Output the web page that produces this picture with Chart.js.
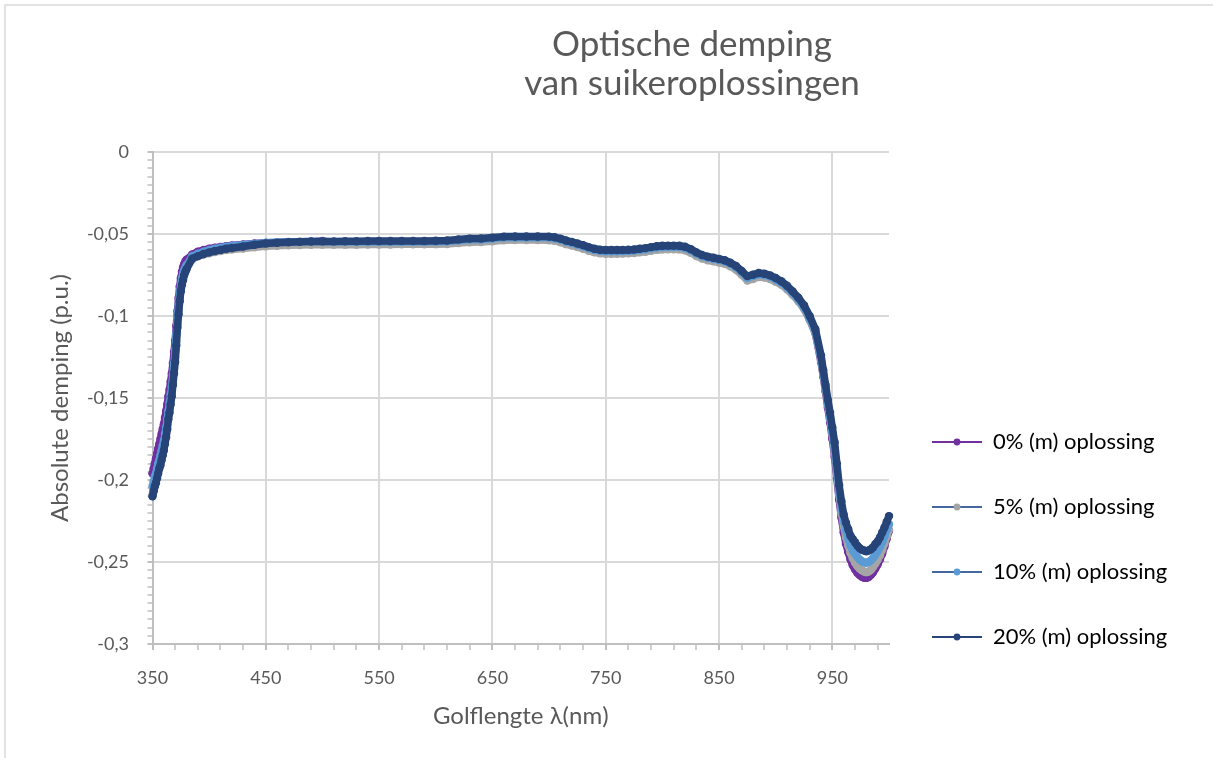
<!DOCTYPE html>
<html>
<head>
<meta charset="utf-8">
<script src="https://cdn.jsdelivr.net/npm/chart.js"></script>
<style>
html,body{margin:0;padding:0;background:#ffffff;}
#wrap{position:relative;width:1213px;height:758px;}
</style>
</head>
<body>
<div id="wrap"><canvas id="c" width="1213" height="758"></canvas></div>
<script>
// ---------- DATA ----------
const wavelengths = [
350,351,352,353,354,355,356,357,358,359,360,361,362,363,364,365,366,367,368,369,370,371,372,373,374,375,376,377,378,379,380,
385,390,395,400,405,410,415,420,
430,440,450,460,470,480,490,500,510,520,530,540,550,560,570,580,590,600,610,620,630,640,650,660,670,680,690,700,
705,710,715,720,725,730,735,740,745,750,755,760,765,770,775,780,785,790,795,800,805,810,815,820,825,830,835,840,845,850,855,860,865,870,875,880,885,890,895,900,905,910,915,920,925,930,935,
940,942,944,946,948,950,952,954,956,958,960,962,964,966,968,970,972,974,976,978,980,982,984,986,988,990,992,994,996,998,1000
];

const abs0 = [
-0.196,-0.193,-0.190,-0.187,-0.184,-0.181,-0.178,-0.175,-0.172,-0.169,-0.166,-0.162,-0.158,-0.154,-0.149,-0.145,-0.140,-0.135,-0.129,-0.122,-0.115,-0.106,-0.097,-0.089,-0.082,-0.077,-0.073,-0.0703,-0.0682,-0.0668,-0.0657,
-0.0625,-0.0608,-0.0598,-0.059,-0.0584,-0.0579,-0.0574,-0.057,
-0.0564,-0.0558,-0.0554,-0.0552,-0.0551,-0.055,-0.0549,-0.0542,-0.0553,-0.0554,-0.0554,-0.0553,-0.0553,-0.0553,-0.0552,-0.0552,-0.0552,-0.0551,-0.055,-0.0543,-0.0538,-0.0537,-0.0532,-0.0526,-0.0525,-0.0525,-0.0525,-0.0526,
-0.053,-0.0538,-0.055,-0.0558,-0.0568,-0.0578,-0.059,-0.06,-0.0606,-0.0608,-0.0608,-0.0608,-0.0607,-0.0606,-0.0604,-0.06,-0.0596,-0.059,-0.0585,-0.0582,-0.0581,-0.0581,-0.0582,-0.0588,-0.0602,-0.0622,-0.0638,-0.0648,-0.0655,-0.0662,-0.067,-0.0685,-0.0706,-0.0737,-0.0772,-0.0762,-0.075,-0.0754,-0.0764,-0.078,-0.08,-0.0828,-0.0864,-0.0903,-0.0952,-0.102,-0.1105,
-0.128,-0.137,-0.146,-0.156,-0.165,-0.175,-0.186,-0.199,-0.212,-0.223,-0.232,-0.239,-0.244,-0.2485,-0.252,-0.2545,-0.2565,-0.258,-0.259,-0.2596,-0.2597,-0.2592,-0.258,-0.2562,-0.254,-0.2515,-0.2485,-0.245,-0.2405,-0.2358,-0.231
];

const abs5 = [
-0.209,-0.206,-0.203,-0.2005,-0.1975,-0.1945,-0.1915,-0.1885,-0.1855,-0.1825,-0.179,-0.1755,-0.1715,-0.1665,-0.161,-0.1565,-0.1515,-0.1465,-0.1395,-0.1325,-0.125,-0.1155,-0.105,-0.097,-0.0895,-0.0838,-0.0798,-0.0768,-0.074,-0.0722,-0.0708,
-0.0655,-0.0636,-0.0625,-0.0617,-0.061,-0.0604,-0.0598,-0.0594,
-0.0588,-0.0581,-0.0575,-0.0572,-0.0569,-0.0567,-0.0566,-0.0565,-0.0565,-0.0565,-0.0565,-0.0564,-0.0564,-0.0564,-0.0563,-0.0563,-0.0563,-0.0562,-0.0561,-0.0555,-0.055,-0.0549,-0.0544,-0.0538,-0.0537,-0.0537,-0.0537,-0.0538,
-0.0542,-0.055,-0.0562,-0.057,-0.058,-0.059,-0.0602,-0.0612,-0.0618,-0.062,-0.062,-0.062,-0.0619,-0.0618,-0.0616,-0.0612,-0.0608,-0.0602,-0.0597,-0.0594,-0.0593,-0.0593,-0.0594,-0.06,-0.0614,-0.0634,-0.065,-0.066,-0.0667,-0.0674,-0.0682,-0.0697,-0.0718,-0.0749,-0.0784,-0.0774,-0.0762,-0.0765,-0.0775,-0.0791,-0.081,-0.0837,-0.0872,-0.091,-0.0958,-0.1025,-0.1105,
-0.127,-0.136,-0.145,-0.154,-0.163,-0.172,-0.183,-0.196,-0.209,-0.220,-0.228,-0.235,-0.240,-0.2445,-0.2478,-0.2505,-0.2525,-0.254,-0.255,-0.2558,-0.2562,-0.2558,-0.2548,-0.253,-0.251,-0.2487,-0.246,-0.2425,-0.2387,-0.2345,-0.2303
];

const abs10 = [
-0.204,-0.201,-0.198,-0.196,-0.193,-0.190,-0.188,-0.185,-0.182,-0.179,-0.176,-0.172,-0.168,-0.163,-0.158,-0.153,-0.148,-0.143,-0.136,-0.129,-0.121,-0.111,-0.101,-0.093,-0.086,-0.081,-0.077,-0.074,-0.072,-0.0705,-0.069,
-0.0635,-0.062,-0.0608,-0.0598,-0.059,-0.0584,-0.0578,-0.0573,
-0.0566,-0.0559,-0.0553,-0.055,-0.0548,-0.0547,-0.0546,-0.0545,-0.0548,-0.0548,-0.0548,-0.0548,-0.0548,-0.0548,-0.0547,-0.0547,-0.0547,-0.0546,-0.0545,-0.0539,-0.0534,-0.0533,-0.0528,-0.0522,-0.0521,-0.0521,-0.0521,-0.0522,
-0.0526,-0.0534,-0.0546,-0.0555,-0.0565,-0.0575,-0.0587,-0.0597,-0.0603,-0.0605,-0.0605,-0.0605,-0.0604,-0.0603,-0.0601,-0.0597,-0.0593,-0.0587,-0.0582,-0.0579,-0.0578,-0.0578,-0.0579,-0.0585,-0.0599,-0.0619,-0.0635,-0.0645,-0.0652,-0.0659,-0.0667,-0.0682,-0.0703,-0.0734,-0.0767,-0.0757,-0.0746,-0.075,-0.076,-0.0777,-0.0797,-0.0825,-0.086,-0.0899,-0.0947,-0.1015,-0.1095,
-0.126,-0.135,-0.144,-0.153,-0.162,-0.171,-0.181,-0.194,-0.207,-0.217,-0.225,-0.231,-0.236,-0.240,-0.243,-0.245,-0.247,-0.2485,-0.2495,-0.2502,-0.2505,-0.250,-0.249,-0.2475,-0.2455,-0.2435,-0.241,-0.238,-0.2345,-0.2305,-0.227
];

const abs20 = [
-0.210,-0.207,-0.204,-0.202,-0.199,-0.196,-0.193,-0.191,-0.188,-0.185,-0.182,-0.178,-0.174,-0.169,-0.163,-0.159,-0.154,-0.149,-0.142,-0.135,-0.128,-0.118,-0.107,-0.099,-0.091,-0.085,-0.081,-0.078,-0.075,-0.073,-0.0715,
-0.065,-0.0635,-0.0622,-0.0612,-0.0604,-0.0597,-0.059,-0.0585,
-0.0576,-0.0566,-0.0558,-0.0554,-0.055,-0.0548,-0.0546,-0.0545,-0.0545,-0.0544,-0.0544,-0.0543,-0.0543,-0.0543,-0.0542,-0.0542,-0.0542,-0.0541,-0.054,-0.0533,-0.0528,-0.0527,-0.0522,-0.0516,-0.0515,-0.0515,-0.0515,-0.0516,
-0.052,-0.0528,-0.054,-0.0548,-0.0558,-0.0568,-0.058,-0.059,-0.0596,-0.0598,-0.0598,-0.0598,-0.0597,-0.0596,-0.0594,-0.059,-0.0586,-0.058,-0.0575,-0.0572,-0.0571,-0.0571,-0.0572,-0.0578,-0.0592,-0.0612,-0.0628,-0.0638,-0.0645,-0.0652,-0.066,-0.0675,-0.0695,-0.0725,-0.0757,-0.0748,-0.0738,-0.0742,-0.0752,-0.0768,-0.0788,-0.0815,-0.085,-0.0888,-0.0935,-0.100,-0.108,
-0.124,-0.133,-0.142,-0.151,-0.159,-0.168,-0.177,-0.190,-0.203,-0.213,-0.221,-0.226,-0.230,-0.234,-0.236,-0.238,-0.240,-0.2415,-0.2425,-0.243,-0.2435,-0.243,-0.2422,-0.241,-0.239,-0.2375,-0.235,-0.232,-0.229,-0.2255,-0.222
];

const seriesNames = ['0% (m) oplossing','5% (m) oplossing','10% (m) oplossing','20% (m) oplossing'];
const seriesValues = [abs0, abs5, abs10, abs20];
const titleLines = ['Optische demping','van suikeroplossingen'];
const xTitle = 'Golflengte \u03BB(nm)';
const yTitle = 'Absolute demping (p.u.)';
const xMajorTicks = [350,450,550,650,750,850,950];
const xTickLabels = ['350','450','550','650','750','850','950'];
const yMajorTicks = [0,-0.05,-0.1,-0.15,-0.2,-0.25,-0.3];
const yTickLabels = ['0','-0,05','-0,1','-0,15','-0,2','-0,25','-0,3'];

// ---------- STYLE ----------
const markerColors = ['#7030A0','#A5A5A5','#5B9BD5','#264478'];
const legendLineColors = ['#7030A0','#44679F','#44679F','#264478'];
const textGray = '#595959';
const gridColor = '#d9d9d9';
const axisColor = '#bfbfbf';
const FONT = 'Lato';
const legendFontSize = 22;
const legendPad = 43;
const legendBoxW = 50;

// minor tick positions (axis configuration)
const xAllTicks = []; for (let v = 350; v <= 1000; v += 20) xAllTicks.push(v);
const yAllTicks = []; for (let k = 0; k <= 60; k++) yAllTicks.push(+(-0.3 + k * 0.005).toFixed(3));

const near = (a, b) => Math.abs(a - b) < 1e-6;
const yMajorIndex = v => yMajorTicks.findIndex(m => near(m, v));
const xMajorIndex = v => xMajorTicks.findIndex(m => near(m, v));

function legendIcon(lineColor, markerColor) {
  const c = document.createElement('canvas');
  c.width = legendBoxW; c.height = 12;
  const g = c.getContext('2d');
  g.fillStyle = lineColor;
  g.fillRect(0, 5, legendBoxW, 2);
  g.fillStyle = markerColor;
  g.beginPath(); g.arc(legendBoxW / 2, 6, 3.4, 0, Math.PI * 2); g.fill();
  return c;
}
const legendIcons = seriesNames.map((n, i) => legendIcon(legendLineColors[i], markerColors[i]));

// width of legend so that the plot area ends where the reference does
const mctx = document.createElement('canvas').getContext('2d');
mctx.font = 'normal ' + legendFontSize + 'px ' + FONT;
const maxTextW = Math.max(...seriesNames.map(s => mctx.measureText(s).width));
const legendWidth = legendPad + legendBoxW + legendFontSize / 2 + maxTextW + 10;
const plotRight = 889;
const rightPad = Math.max(0, 1213 - plotRight - legendWidth);

const framePlugin = {
  id: 'frame',
  beforeDraw(chart) {
    const ctx = chart.ctx;
    ctx.save();
    ctx.fillStyle = '#ffffff';
    ctx.fillRect(0, 0, chart.width, chart.height);
    ctx.strokeStyle = '#d9d9d9';
    ctx.lineWidth = 1.5;
    ctx.strokeRect(5, 5, chart.width + 20, chart.height + 20);
    ctx.restore();
  }
};

const titlePlugin = {
  id: 'twoLineTitle',
  afterDraw(chart) {
    const ctx = chart.ctx;
    ctx.save();
    ctx.font = 'normal 35px ' + FONT;
    ctx.fillStyle = textGray;
    ctx.textAlign = 'center';
    ctx.textBaseline = 'alphabetic';
    titleLines.forEach((t, i) => ctx.fillText(t, 692, 56 + i * 39));
    ctx.restore();
  }
};

Chart.defaults.font.family = FONT;

const datasets = seriesNames.map((name, i) => ({
  label: name,
  data: wavelengths.map((w, j) => ({ x: w, y: seriesValues[i][j] })),
  borderColor: markerColors[i],
  backgroundColor: markerColors[i],
  pointBackgroundColor: markerColors[i],
  pointBorderColor: markerColors[i],
  borderWidth: 7.5,
  borderJoinStyle: 'round',
  borderCapStyle: 'round',
  pointRadius: 4.2,
  pointBorderWidth: 0,
  pointHoverRadius: 4.2,
  tension: 0,
  clip: false,
  order: 4 - i
}));

new Chart(document.getElementById('c'), {
  type: 'line',
  data: { datasets },
  plugins: [framePlugin, titlePlugin],
  options: {
    responsive: false,
    animation: false,
    devicePixelRatio: 1,
    layout: { padding: { left: 10, top: 152, right: rightPad, bottom: 20 } },
    plugins: {
      title: { display: false },
      tooltip: { enabled: false },
      legend: {
        position: 'right',
        align: 'start',
        title: { display: true, text: '', font: { size: 10 }, padding: { top: 224, bottom: 0 } },
        labels: {
          usePointStyle: true,
          pointStyleWidth: legendBoxW,
          padding: legendPad,
          color: '#000000',
          font: { family: FONT, size: legendFontSize },
          sort: (a, b) => a.datasetIndex - b.datasetIndex,
          generateLabels: (chart) => seriesNames.map((n, i) => ({
            text: n,
            datasetIndex: i,
            pointStyle: legendIcons[i],
            fillStyle: markerColors[i],
            strokeStyle: legendLineColors[i],
            lineWidth: 0,
            fontColor: '#000000',
            hidden: false
          }))
        }
      }
    },
    scales: {
      x: {
        type: 'linear',
        min: 350,
        max: 1000,
        afterBuildTicks: s => { s.ticks = xAllTicks.map(v => ({ value: v })); },
        afterFit: s => { s.height = 94; },
        ticks: {
          autoSkip: false, maxRotation: 0, minRotation: 0, padding: 17,
          color: textGray, font: { family: FONT, size: 18 },
          callback: v => { const k = xMajorIndex(v); return k >= 0 ? xTickLabels[k] : ''; }
        },
        grid: {
          color: c => (xMajorIndex(c.tick.value) > 0 ? gridColor : 'rgba(0,0,0,0)'),
          lineWidth: 2,
          tickColor: axisColor,
          tickLength: 6,
          tickWidth: c => (xMajorIndex(c.tick.value) >= 0 ? 2 : 1.5)
        },
        border: { color: axisColor, width: 2 },
        title: { display: true, text: xTitle, color: textGray, font: { family: FONT, size: 24 }, padding: { top: 0, bottom: 7.6 } }
      },
      y: {
        type: 'linear',
        min: -0.3,
        max: 0,
        afterBuildTicks: s => { s.ticks = yAllTicks.map(v => ({ value: v })); },
        afterFit: s => { s.width = 142.5; },
        ticks: {
          autoSkip: false, padding: 18.5,
          color: textGray, font: { family: FONT, size: 18 },
          callback: v => { const k = yMajorIndex(v); return k >= 0 ? yTickLabels[k] : ''; }
        },
        grid: {
          color: c => { const k = yMajorIndex(c.tick.value); return (k >= 0 && k < yMajorTicks.length - 1) ? gridColor : 'rgba(0,0,0,0)'; },
          lineWidth: 2,
          tickColor: axisColor,
          tickLength: 5,
          tickWidth: c => (yMajorIndex(c.tick.value) >= 0 ? 2 : 1.5)
        },
        border: { color: axisColor, width: 2 },
        title: { display: true, text: yTitle, color: textGray, font: { family: FONT, size: 24 }, padding: { top: 35.6, bottom: 0 } }
      }
    }
  }
});
</script>
</body>
</html>
